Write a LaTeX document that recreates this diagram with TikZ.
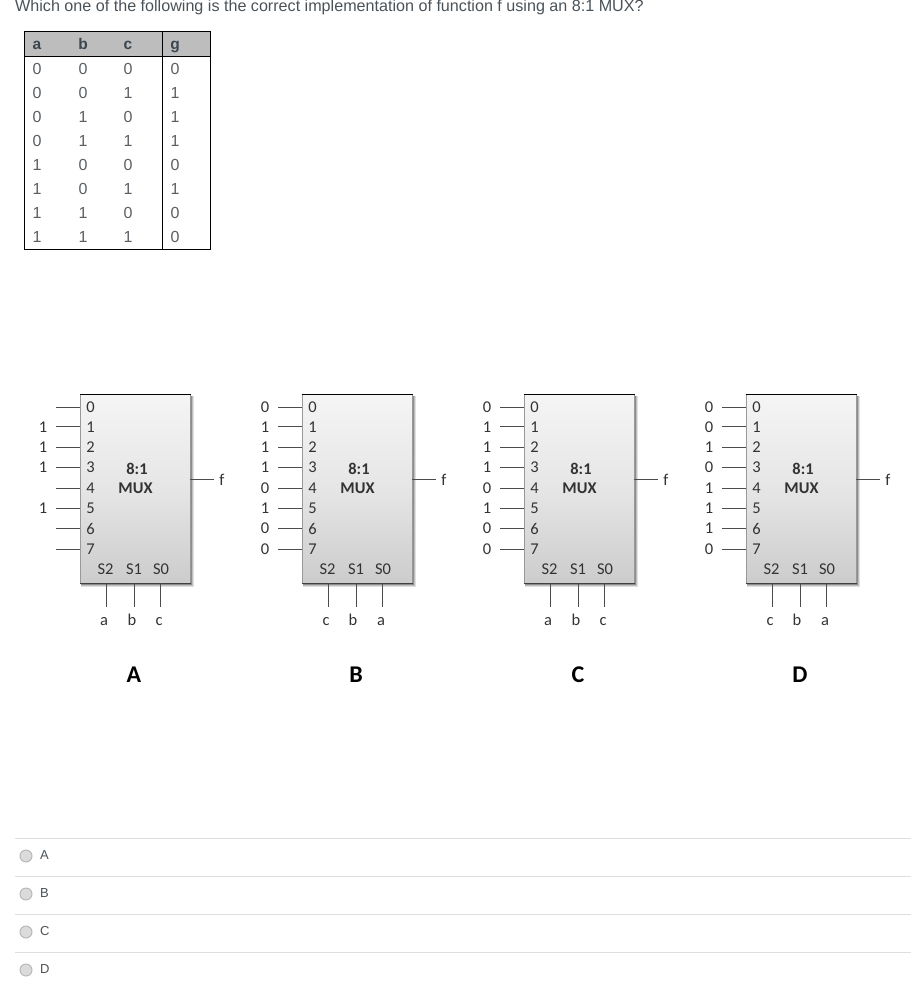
\documentclass[tikz,border=0pt]{standalone}
\usepackage{fontspec}
\setmainfont{Liberation Sans}
\newfontfamily\muxfont{Carlito}
\definecolor{qtext}{HTML}{4A5258}
\definecolor{headfill}{HTML}{BDBDBD}
\definecolor{headtext}{HTML}{3A4650}
\definecolor{celltext}{HTML}{5A5F63}
\definecolor{muxtext}{HTML}{333333}
\definecolor{ruleline}{HTML}{DEDEDE}
\tikzset{
  x=1pt,y=-1pt,
  question/.style={font=\fontsize{16.13}{18}\selectfont,text=qtext,inner sep=0pt,anchor=west},
  headcell/.style={font=\fontsize{15.5}{17}\selectfont\bfseries,text=headtext,inner sep=0pt,anchor=base},
  cell/.style={font=\fontsize{16}{18}\selectfont,text=celltext,inner sep=0pt},
  tableline/.style={line width=1pt,draw=black},
  muxbox/.style={rectangle,minimum width=110pt,minimum height=189pt,inner sep=0pt,anchor=north west,
    top color=black!4,bottom color=black!20,middle color=black!10,draw=black!40,line width=.6pt},
  muxtxt/.style={font=\muxfont\fontsize{16.5}{18}\selectfont,text=muxtext,inner sep=0pt},
  muxtitle/.style={font=\muxfont\fontsize{16.4}{18}\selectfont\bfseries,text=muxtext,inner sep=0pt},
  muxletter/.style={font=\muxfont\fontsize{24}{26}\selectfont\bfseries,text=black,inner sep=0pt},
  wire/.style={line width=.8pt,draw=black!70},
  optrule/.style={line width=.8pt,draw=ruleline},
  radio/.style={circle,minimum size=12pt,inner sep=0pt,draw=black!28,line width=1pt,fill=black!14},
  opttxt/.style={font=\fontsize{13}{15}\selectfont,text=qtext,inner sep=0pt,anchor=west},
}
\newcommand{\muxblock}[5]{% id, offset, inputs, selector lines, letter
  \begin{scope}[shift={(#2,0)}]
    \fill[black!12] (81,396) rectangle (194,587);
    \fill[black!25] (81,396) rectangle (193,586);
    \fill[black!45] (81,396) rectangle (192,585);
    \node[muxbox] (#1box) at (80,394) {};
    \draw[line width=.9pt,black] (#1box.north west) -- (#1box.north east);
    \draw[line width=.9pt,black!75] (#1box.south west) -- (#1box.south east);
    \foreach \i/\yy/\v in {#3}{
      \coordinate (#1s\i) at (56,\yy);
      \coordinate (#1e\i) at (80,\yy);
      \draw[wire] (#1s\i) -- (#1e\i);
      \node[muxtxt] (#1d\i) at (90.5,\yy+.5) {\i};
      \node[muxtxt] (#1v\i) at (43,\yy+.5) {\v};
    }
    \node[muxtitle] (#1t) at (137,468.5) {8:1};
    \node[muxtitle] (#1m) at (135.5,488.5) {MUX};
    \coordinate (#1o0) at (190,479);
    \coordinate (#1o1) at (214,479);
    \draw[wire] (#1o0) -- (#1o1);
    \node[muxtxt] (#1f) at (222,480) {f};
    \node[muxtxt] (#1S2) at (105.5,569.5) {S2};
    \node[muxtxt] (#1S1) at (134,569.5) {S1};
    \node[muxtxt] (#1S0) at (161,569.5) {S0};
    \foreach \n/\xx/\tx/\tt in {#4}{
      \coordinate (#1a\n) at (\xx,583);
      \coordinate (#1b\n) at (\xx,607);
      \draw[wire] (#1a\n) -- (#1b\n);
      \node[muxtxt,anchor=base] (#1l\n) at (\tx,625) {\tt};
    }
    \node[muxletter] (#1L) at (134,675) {#5};
  \end{scope}
}
\begin{document}
\begin{tikzpicture}
\useasboundingbox (0,0) rectangle (914,993);
\node[question] (q) at (15,7.6) {Which one of the following is the correct implementation of function f using an 8:1 MUX?};

% truth table
\fill[headfill] (24.5,31.5) rectangle (210.5,56.5);
\draw[tableline] (24.5,31.5) rectangle (210.5,249);
\draw[tableline] (24.5,56.5) -- (210.5,56.5);
\draw[tableline] (162.5,31.5) -- (162.5,249);
\node[headcell] (ha) at (37,49.5) {a};
\node[headcell] (hb) at (83,49.5) {b};
\node[headcell] (hc) at (128,49.5) {c};
\node[headcell] (hg) at (175,49.5) {g};
\foreach \r/\yy/\a/\b/\c/\g in {1/68/0/0/0/0,2/92/0/0/1/1,3/116/0/1/0/1,4/140/0/1/1/1,5/164/1/0/0/0,6/188/1/0/1/1,7/212/1/1/0/0,8/236/1/1/1/0}{
  \node[cell] (ca\r) at (37,\yy+.5) {\a};
  \node[cell] (cb\r) at (83,\yy+.5) {\b};
  \node[cell] (cc\r) at (128,\yy+.5) {\c};
  \node[cell] (cg\r) at (175,\yy+.5) {\g};
}

\muxblock{A}{0}{0/407/,1/426.5/1,2/447/1,3/467/1,4/488/,5/508/1,6/528/,7/549/}{2/106/104/a,1/134.5/132/b,0/160.5/159/c}{A}
\muxblock{B}{222}{0/407/0,1/426.5/1,2/447/1,3/467/1,4/488/0,5/508/1,6/528/0,7/549/0}{2/106/104/c,1/134.5/131/b,0/160.5/159/a}{B}
\muxblock{C}{444}{0/407/0,1/426.5/1,2/447/1,3/467/1,4/488/0,5/508/1,6/528/0,7/549/0}{2/106/104/a,1/134.5/132/b,0/160.5/159/c}{C}
\muxblock{D}{666}{0/407/0,1/426.5/0,2/447/1,3/467/0,4/488/1,5/508/1,6/528/1,7/549/0}{2/106/104/c,1/134.5/131/b,0/160.5/159/a}{D}

% answer options
\foreach \n/\yy in {A/838.5,B/876.5,C/914.5,D/952.5}{
  \coordinate (r\n0) at (15,\yy);
  \coordinate (r\n1) at (911,\yy);
  \draw[optrule] (r\n0) -- (r\n1);
  \node[radio] (o\n) at (26,\yy+17.5) {};
  \node[opttxt] (t\n) at (40,\yy+17) {\n};
}
\end{tikzpicture}
\end{document}
